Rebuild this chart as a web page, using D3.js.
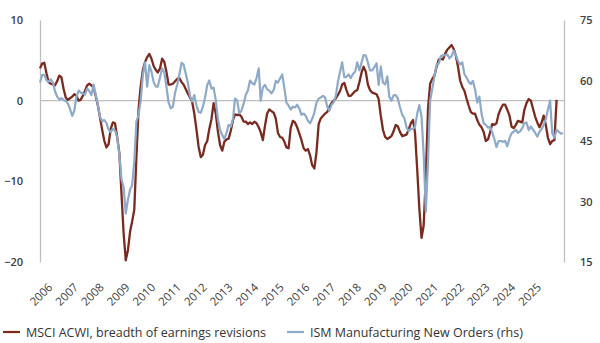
<!DOCTYPE html>
<html>
<head>
<meta charset="utf-8">
<script src="https://cdn.jsdelivr.net/npm/d3@7"></script>
<style>
  html, body { margin: 0; padding: 0; background: #ffffff; }
  svg { display: block; }
  text { font-family: "Open Sans", "Noto Sans", sans-serif; }
</style>
</head>
<body>
<svg id="chart" width="600" height="343"></svg>
<script>
// ---- Data (monthly, Aug 2005 .. Dec 2025) ----
const startMonth = new Date(2005, 7, 1);
const endMonth = new Date(2026, 0, 1);
const months = d3.timeMonth.range(startMonth, endMonth); // categories

const yearLabels = ["2006","2007","2008","2009","2010","2011","2012","2013","2014","2015",
                    "2016","2017","2018","2019","2020","2021","2022","2023","2024","2025"];
const leftTicks = [-20, -10, 0, 10];
const rightTicks = [15, 30, 45, 60, 75];

const seriesNames = ["MSCI ACWI, breadth of earnings revisions", "ISM Manufacturing New Orders (rhs)"];

// MSCI ACWI breadth of earnings revisions (lhs)
const msciBreadth = [
  4.0, 4.6, 4.7, 3.4, 2.3, 2.1, 2.0, 1.9, 2.4, 3.1,
  2.9, 1.5, 0.4, 0.1, 0.3, 0.5, 0.8, 0.6, 0.0, 0.1,
  0.6, 1.2, 1.9, 2.1, 1.9, 1.6, 0.6, -0.6, -2.1, -3.6,
  -5.0, -5.8, -5.4, -3.5, -2.7, -2.8, -4.5, -6.5, -11.5, -16.5,
  -19.8, -18.5, -16.2, -15.0, -13.5, -7.0, -1.0, 1.8, 3.8, 4.8,
  5.4, 5.8, 5.2, 4.3, 3.8, 3.5, 4.0, 5.2, 4.8, 3.6,
  2.0, 2.0, 2.1, 2.4, 2.7, 2.8, 2.3, 2.0, 1.45, 0.9,
  0.4, -0.1, -1.6, -3.6, -5.7, -7.0, -6.7, -5.5, -5.0, -3.5,
  -2.3, -0.3, -1.6, -3.8, -5.5, -6.2, -5.1, -4.8, -4.7, -3.7,
  -2.4, -1.7, -1.8, -1.7, -2.0, -2.6, -2.6, -2.9, -2.7, -2.9,
  -2.6, -2.8, -3.3, -3.9, -4.9, -3.1, -1.6, -1.1, -1.3, -1.5,
  -2.2, -4.0, -4.5, -4.6, -5.1, -5.8, -5.9, -3.4, -2.5, -2.7,
  -3.3, -4.1, -4.9, -5.9, -6.2, -6.0, -6.8, -8.0, -8.4, -6.4,
  -2.9, -2.2, -1.9, -1.6, -1.4, -0.8, -0.3, 0.0, 0.3, 0.7,
  1.2, 2.0, 2.2, 1.3, 0.6, 0.6, 0.9, 1.2, 1.3, 2.3,
  3.5, 4.2, 3.6, 2.0, 1.3, 1.0, 0.9, 0.8, 0.2, -1.9,
  -3.6, -4.5, -4.75, -4.6, -4.4, -3.8, -3.0, -3.2, -3.9, -4.4,
  -4.3, -4.2, -3.6, -2.8, -2.4, -4.0, -8.6, -13.4, -17.0, -15.5,
  -9.5, -1.0, 2.1, 2.7, 3.1, 4.2, 5.1, 5.2, 5.1, 5.8,
  6.3, 6.6, 6.9, 6.4, 5.6, 4.2, 2.5, 1.7, 1.2, 0.3,
  -0.6, -1.4, -1.6, -1.6, -2.4, -3.0, -3.3, -3.9, -5.0, -4.8,
  -3.9, -2.9, -3.0, -2.8, -1.65, -1.0, -0.5, -0.5, -1.1, -1.8,
  -3.2, -3.4, -3.0, -2.5, -2.6, -2.7, -1.1, -0.3, 0.2, 0.0,
  -1.0, -2.0, -2.7, -3.3, -2.7, -1.85, -3.0, -4.6, -5.4, -5.0,
  -4.9, 0.1
];

// ISM Manufacturing New Orders (rhs)
const ismNewOrders = [
  59.5, 61.4, 61.4, 60.1, 59.7, 60.3, 59.5, 57.4, 56.0, 55.3,
  55.6, 55.2, 54.9, 54.3, 53.0, 51.2, 52.5, 56.0, 57.5, 57.0,
  56.8, 56.5, 58.0, 57.4, 56.4, 59.0, 56.5, 53.9, 51.0, 49.9,
  50.2, 49.5, 47.8, 47.2, 48.0, 47.6, 46.0, 41.5, 35.5, 33.5,
  27.0, 30.5, 33.0, 34.0, 40.0, 49.8, 51.5, 55.0, 61.5, 64.5,
  58.5, 63.8, 62.2, 59.6, 58.5, 58.5, 60.8, 63.0, 62.0, 58.5,
  54.5, 53.1, 53.5, 57.0, 58.9, 61.5, 64.4, 64.0, 61.8, 59.5,
  56.2, 54.8, 56.4, 53.8, 52.2, 52.0, 53.5, 55.8, 58.9, 60.0,
  58.0, 58.2, 55.2, 50.5, 47.7, 46.5, 45.5, 47.0, 49.0, 48.6,
  50.5, 55.5, 55.0, 51.9, 52.5, 54.2, 56.4, 57.6, 60.0, 59.3,
  59.0, 60.6, 63.0, 55.0, 58.3, 58.9, 57.8, 57.5, 56.8, 57.6,
  59.9, 59.5, 60.5, 61.5, 58.0, 54.5, 53.8, 52.8, 53.5, 53.3,
  54.0, 53.0, 51.5, 51.8, 51.2, 50.0, 49.4, 50.5, 52.0, 54.5,
  55.5, 55.8, 56.2, 55.8, 53.5, 52.5, 54.0, 54.6, 56.3, 59.6,
  62.2, 64.5, 60.8, 60.9, 61.5, 60.6, 61.6, 62.2, 64.5, 62.5,
  64.5, 66.3, 66.2, 64.5, 62.5, 62.5, 63.3, 64.3, 58.9, 63.5,
  59.5, 59.0, 61.0, 56.0, 55.0, 56.3, 56.4, 55.5, 53.3, 51.5,
  50.7, 48.4, 47.4, 48.0, 48.0, 48.6, 51.8, 53.9, 51.0, 42.0,
  27.5, 40.0, 55.0, 58.0, 61.0, 63.9, 64.2, 66.0, 66.3, 66.2,
  66.5, 65.5, 66.0, 67.4, 66.3, 64.8, 64.0, 64.5, 61.5, 60.8,
  59.7, 59.1, 59.9, 57.8, 54.5, 56.0, 51.8, 49.4, 49.0, 48.3,
  48.5, 47.2, 45.5, 43.5, 45.0, 45.0, 44.8, 45.0, 43.7, 45.6,
  46.9, 47.3, 47.8, 47.0, 47.4, 48.2, 49.4, 49.6, 47.7, 48.6,
  47.8, 47.0, 46.1, 47.3, 48.0, 48.9, 50.5, 52.8, 55.0, 46.9,
  45.8, 47.8, 47.3, 46.8, 47.0
];

// ---- Chart ----
const svg = d3.select("#chart");
const colorRed = "#7b2a20";
const colorBlue = "#8eaac9";
const axisColor = "#bfbfbf";
const tickColor = "#404040";

svg.append("rect").attr("width", 600).attr("height", 343).attr("fill", "#fff");

const x = d3.scaleTime().domain([months[0], months[months.length - 1]]).range([40, 563]);
const yL = d3.scaleLinear().domain([-20, 10]).range([262, 20]);
const yR = d3.scaleLinear().domain([15, 75]).range([262, 20]);

// zero line
svg.append("line")
  .attr("x1", 40).attr("x2", 564)
  .attr("y1", yL(0)).attr("y2", yL(0))
  .attr("stroke", axisColor).attr("stroke-width", 1.3);

// left axis
const gL = svg.append("g").attr("transform", "translate(40,0)")
  .call(d3.axisLeft(yL).tickValues(leftTicks).tickSizeInner(0).tickSizeOuter(0).tickPadding(17).tickFormat(d3.format("d")));
gL.select(".domain").attr("stroke", axisColor).attr("stroke-width", 1.3);
gL.selectAll("text").attr("fill", tickColor).attr("font-size", 11).attr("font-weight", 600);

// right axis
const gR = svg.append("g").attr("transform", "translate(564,0)")
  .call(d3.axisRight(yR).tickValues(rightTicks).tickSizeInner(0).tickSizeOuter(0).tickPadding(16).tickFormat(d3.format("d")));
gR.select(".domain").attr("stroke", axisColor).attr("stroke-width", 1.3);
gR.selectAll("text").attr("fill", tickColor).attr("font-size", 11).attr("font-weight", 600);

// x axis labels (rotated)
const yearDates = yearLabels.map(y => new Date(+y, 0, 1));
const gX = svg.append("g").attr("transform", "translate(0,0)")
  .call(d3.axisBottom(x).tickValues(yearDates).tickSize(0).tickFormat(d3.timeFormat("%Y")));
gX.select(".domain").remove();
gX.selectAll("text")
  .attr("x", 0).attr("y", 0).attr("dy", 0)
  .attr("text-anchor", "end")
  .attr("transform", "translate(2,288) rotate(-45)")
  .attr("fill", tickColor).attr("font-size", 11.5).attr("font-weight", 400);

// lines
const lineL = d3.line().x((d, i) => x(months[i])).y(d => yL(d));
const lineR = d3.line().x((d, i) => x(months[i])).y(d => yR(d));

svg.append("path").datum(msciBreadth)
  .attr("d", lineL).attr("fill", "none")
  .attr("stroke", colorRed).attr("stroke-width", 2.3)
  .attr("stroke-linejoin", "round");

svg.append("path").datum(ismNewOrders)
  .attr("d", lineR).attr("fill", "none")
  .attr("stroke", colorBlue).attr("stroke-width", 2.2)
  .attr("stroke-linejoin", "round");

// legend
const legend = [
  { name: seriesNames[0], color: colorRed, x: 3 },
  { name: seriesNames[1], color: colorBlue, x: 287 }
];
const lg = svg.append("g");
legend.forEach(l => {
  lg.append("line").attr("x1", l.x).attr("x2", l.x + 17).attr("y1", 332).attr("y2", 332)
    .attr("stroke", l.color).attr("stroke-width", 2.2);
  lg.append("text").attr("x", l.x + 23).attr("y", 336.5)
    .attr("font-size", 12.5).attr("fill", "#333").text(l.name);
});
</script>
</body>
</html>
